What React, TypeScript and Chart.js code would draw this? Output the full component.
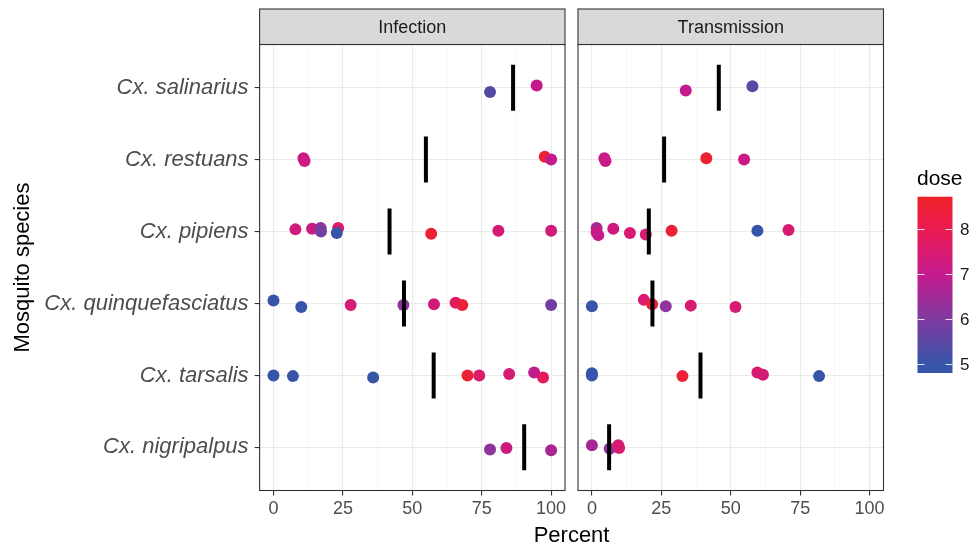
import React, { useEffect, useRef } from 'react';
import { Chart, registerables } from 'chart.js';
Chart.register(...registerables);

const FONT = '"Liberation Sans", Arial, Helvetica, sans-serif';

const SPECIES = ['Cx. salinarius', 'Cx. restuans', 'Cx. pipiens', 'Cx. quinquefasciatus', 'Cx. tarsalis', 'Cx. nigripalpus'];
const PANEL_TITLES = ['Infection', 'Transmission'];
const X_MAJOR_TICKS = [0, 25, 50, 75, 100];
const X_MINOR_TICKS = [12.5, 37.5, 62.5, 87.5];
const DOSE_TICKS = [5, 6, 7, 8];
const DOSE_RANGE = [4.79, 8.73];
const X_TITLE = 'Percent';
const Y_TITLE = 'Mosquito species';
const LEGEND_TITLE = 'dose';

// Infection panel
const INF_SPECIES = [0, 0, 1, 1, 1, 1, 2, 2, 2, 2, 2, 2, 2, 2, 2, 3, 3, 3, 3, 3, 3, 3, 3, 4, 4, 4, 4, 4, 4, 4, 4, 5, 5, 5];
const INF_PERCENT = [78, 94.8, 10.8, 11.2, 97.7, 100, 7.9, 13.9, 17, 17.1, 23.3, 22.8, 56.8, 81, 100, 0, 10, 27.8, 46.8, 57.8, 65.6, 68, 100, 0, 7, 35.9, 69.9, 74.1, 84.9, 93.9, 97.1, 78, 83.9, 100];
const INF_JITTER = [0.06, -0.03, -0.02, 0.02, -0.04, 0, -0.03, -0.04, -0.05, 0, -0.05, 0.02, 0.03, -0.01, -0.01, -0.04, 0.05, 0.02, 0.02, 0.01, -0.01, 0.02, 0.02, 0, 0.01, 0.03, 0, 0, -0.02, -0.04, 0.03, 0.03, 0.01, 0.04];
const INF_DOSE = [5.4, 7.0, 7.1, 7.2, 8.6, 7.0, 7.3, 7.2, 6.2, 5.8, 7.6, 5.0, 8.5, 7.4, 7.3, 5.0, 5.0, 7.4, 6.2, 7.3, 7.7, 8.4, 5.8, 5.0, 5.0, 5.0, 8.5, 7.6, 7.4, 6.9, 7.8, 6.2, 7.2, 6.6];
const INF_SUMMARY = [86.3, 54.9, 41.8, 47, 57.7, 90.3];

// Transmission panel
const TRN_SPECIES = [0, 0, 1, 1, 1, 1, 2, 2, 2, 2, 2, 2, 2, 2, 2, 3, 3, 3, 3, 3, 3, 4, 4, 4, 4, 4, 4, 5, 5, 5, 5];
const TRN_PERCENT = [33.8, 57.8, 4.5, 4.9, 41.2, 54.8, 1.7, 1.7, 2.3, 7.7, 13.7, 19.4, 28.7, 59.6, 70.8, 0, 18.7, 21.7, 26.6, 35.6, 51.7, 0, 0, 32.6, 59.6, 61.6, 81.8, 0, 6.4, 9.5, 9.8];
const TRN_JITTER = [0.04, -0.02, -0.02, 0.02, -0.02, 0, -0.05, 0.01, 0.05, -0.04, 0.02, 0.04, -0.01, -0.01, -0.02, 0.04, -0.05, 0.01, 0.04, 0.03, 0.05, -0.03, 0, 0.01, -0.04, -0.01, 0.01, -0.03, 0.02, -0.03, 0.01];
const TRN_DOSE = [7.0, 5.5, 7.1, 7.1, 8.6, 7.1, 6.5, 7.2, 7.0, 7.2, 7.5, 7.5, 8.5, 5.0, 7.5, 5.0, 7.5, 8.4, 6.2, 7.5, 7.5, 5.0, 5.0, 8.5, 7.5, 7.4, 5.0, 6.6, 6.2, 7.4, 7.5];
const TRN_SUMMARY = [45.7, 26, 20.5, 21.8, 39.1, 6.2];

const COLOR_STOPS: [number, number[]][] = [
  [4.7, [50, 86, 168]],
  [5.0, [54, 84, 168]],
  [6.0, [128, 58, 160]],
  [7.0, [197, 26, 141]],
  [8.0, [235, 28, 82]],
  [8.8, [238, 36, 36]],
];

function doseColor(d: number): string {
  if (d <= COLOR_STOPS[0][0]) return `rgb(${COLOR_STOPS[0][1].join(',')})`;
  for (let i = 1; i < COLOR_STOPS.length; i++) {
    const [d1, c1] = COLOR_STOPS[i];
    const [d0, c0] = COLOR_STOPS[i - 1];
    if (d <= d1) {
      const t = (d - d0) / (d1 - d0);
      const c = c0.map((v, k) => Math.round(v + (c1[k] - v) * t));
      return `rgb(${c.join(',')})`;
    }
  }
  return `rgb(${COLOR_STOPS[COLOR_STOPS.length - 1][1].join(',')})`;
}

const W = 976;
const H = 545;
const STRIP_TOP = 9;
const PANEL_TOP = 44.5;
const PANEL_BOTTOM = 490.5;
const LEFT_PANEL = [259.6, 565];
const RIGHT_PANEL = [578, 883.5];
const SEG_HALF = 0.32;

const isMajor = (v: number) => X_MAJOR_TICKS.includes(v);

function buildDatasets(species: number[], percent: number[], jitter: number[], dose: number[], summary: number[]) {
  const points = {
    type: 'scatter' as const,
    data: percent.map((p, i) => ({ x: p, y: species[i] + jitter[i] })),
    pointRadius: 6,
    pointHoverRadius: 6,
    pointBorderWidth: 0,
    pointBackgroundColor: dose.map(doseColor),
    showLine: false,
    order: 1,
  };
  const segments = summary.map((v, s) => ({
    type: 'line' as const,
    data: [{ x: v, y: s - SEG_HALF }, { x: v, y: s + SEG_HALF }],
    borderColor: '#000000',
    borderWidth: 4,
    borderCapStyle: 'butt' as const,
    pointRadius: 0,
    fill: false,
    order: 0,
  }));
  return [points, ...segments];
}

function panelPlugin(title: string, extra?: (chart: any) => void) {
  return {
    id: 'panelDeco' + title,
    afterDraw(chart: any) {
      const { ctx, chartArea: a } = chart;
      ctx.save();
      ctx.strokeStyle = '#333333';
      ctx.lineWidth = 1.1;
      ctx.strokeRect(a.left, a.top, a.right - a.left, a.bottom - a.top);
      ctx.fillStyle = '#D9D9D9';
      ctx.fillRect(a.left, STRIP_TOP, a.right - a.left, a.top - STRIP_TOP);
      ctx.strokeRect(a.left, STRIP_TOP, a.right - a.left, a.top - STRIP_TOP);
      ctx.fillStyle = '#1A1A1A';
      ctx.font = `18px ${FONT}`;
      ctx.textAlign = 'center';
      ctx.textBaseline = 'middle';
      ctx.fillText(title, (a.left + a.right) / 2, (STRIP_TOP + a.top) / 2 + 1);
      ctx.restore();
      if (extra) extra(chart);
    },
  };
}

function drawLegendAndTitle(chart: any) {
  const { ctx } = chart;
  ctx.save();
  // x-axis title centred over both panels
  ctx.fillStyle = '#000000';
  ctx.font = `22px ${FONT}`;
  ctx.textAlign = 'center';
  ctx.textBaseline = 'alphabetic';
  ctx.fillText(X_TITLE, (LEFT_PANEL[0] + RIGHT_PANEL[1]) / 2, 542);

  // colour bar legend
  const bx = 917.5, bw = 35, by0 = 196.7, by1 = 373;
  const doseToY = (d: number) => by1 - ((d - DOSE_RANGE[0]) / (DOSE_RANGE[1] - DOSE_RANGE[0])) * (by1 - by0);
  ctx.font = `21px ${FONT}`;
  ctx.textAlign = 'left';
  ctx.fillText(LEGEND_TITLE, 917, 185);
  const g = ctx.createLinearGradient(0, by1, 0, by0);
  for (let k = 0; k <= 40; k++) {
    const d = DOSE_RANGE[0] + (k / 40) * (DOSE_RANGE[1] - DOSE_RANGE[0]);
    g.addColorStop(k / 40, doseColor(d));
  }
  ctx.fillStyle = g;
  ctx.fillRect(bx, by0, bw, by1 - by0);
  ctx.strokeStyle = 'rgba(255,255,255,0.85)';
  ctx.lineWidth = 1;
  ctx.font = `17px ${FONT}`;
  ctx.textBaseline = 'middle';
  ctx.fillStyle = '#1A1A1A';
  DOSE_TICKS.forEach((d) => {
    const y = Math.round(doseToY(d)) + 0.5;
    ctx.beginPath();
    ctx.moveTo(bx, y); ctx.lineTo(bx + 7, y);
    ctx.moveTo(bx + bw - 7, y); ctx.lineTo(bx + bw, y);
    ctx.stroke();
    ctx.fillText(String(d), 960, y + 1);
  });
  ctx.restore();
}

function xScale() {
  return {
    type: 'linear' as const,
    min: -5,
    max: 105,
    afterBuildTicks: (s: any) => {
      s.ticks = [...X_MAJOR_TICKS, ...X_MINOR_TICKS].sort((a, b) => a - b).map((v) => ({ value: v }));
    },
    afterFit: (s: any) => { s.height = H - PANEL_BOTTOM; },
    ticks: {
      autoSkip: false,
      maxRotation: 0,
      padding: 3,
      color: '#4D4D4D',
      font: { size: 18, family: FONT },
      callback: (v: any) => (isMajor(Number(v)) ? String(v) : ''),
    },
    grid: {
      color: (c: any) => (c.tick && isMajor(c.tick.value) ? '#EBEBEB' : '#F3F3F3'),
      lineWidth: (c: any) => (c.tick && isMajor(c.tick.value) ? 1.1 : 0.6),
      drawTicks: true,
      tickLength: 5,
      tickWidth: 1.1,
      tickColor: (c: any) => (c.tick && isMajor(c.tick.value) ? '#333333' : 'rgba(0,0,0,0)'),
    },
    border: { display: false },
  };
}

function makeConfig(isLeft: boolean): any {
  const datasets = isLeft
    ? buildDatasets(INF_SPECIES, INF_PERCENT, INF_JITTER, INF_DOSE, INF_SUMMARY)
    : buildDatasets(TRN_SPECIES, TRN_PERCENT, TRN_JITTER, TRN_DOSE, TRN_SUMMARY);
  return {
    type: 'scatter',
    data: { datasets },
    options: {
      responsive: false,
      animation: false,
      devicePixelRatio: 1,
      events: [],
      layout: {
        padding: isLeft
          ? { top: PANEL_TOP, right: W - LEFT_PANEL[1], bottom: 0, left: 0 }
          : { top: PANEL_TOP, right: W - RIGHT_PANEL[1], bottom: 0, left: RIGHT_PANEL[0] },
      },
      plugins: { legend: { display: false }, tooltip: { enabled: false }, title: { display: false } },
      scales: {
        x: xScale(),
        y: {
          type: 'linear',
          min: -0.6,
          max: 5.6,
          reverse: true,
          afterBuildTicks: (s: any) => { s.ticks = SPECIES.map((_, i) => ({ value: i })); },
          afterFit: (s: any) => { s.width = isLeft ? LEFT_PANEL[0] : 0; },
          ticks: {
            display: isLeft,
            autoSkip: false,
            padding: 6,
            color: '#4D4D4D',
            font: { size: 22, style: 'italic', family: FONT },
            callback: (v: any) => SPECIES[Number(v)] ?? '',
          },
          grid: {
            color: '#EBEBEB',
            lineWidth: 1.1,
            drawTicks: isLeft,
            tickLength: isLeft ? 5 : 0,
            tickWidth: 1.1,
            tickColor: '#333333',
          },
          border: { display: false },
          title: {
            display: isLeft,
            text: Y_TITLE,
            color: '#000000',
            font: { size: 22, family: FONT },
            padding: { top: 10, bottom: 0 },
          },
        },
      },
    },
    plugins: [panelPlugin(isLeft ? PANEL_TITLES[0] : PANEL_TITLES[1], isLeft ? undefined : drawLegendAndTitle)],
  };
}

export default function App() {
  const leftRef = useRef<HTMLCanvasElement>(null);
  const rightRef = useRef<HTMLCanvasElement>(null);

  useEffect(() => {
    document.body.style.margin = '0';
    document.body.style.background = '#ffffff';
    const c1 = new Chart(leftRef.current as HTMLCanvasElement, makeConfig(true));
    const c2 = new Chart(rightRef.current as HTMLCanvasElement, makeConfig(false));
    return () => {
      c1.destroy();
      c2.destroy();
    };
  }, []);

  const style: React.CSSProperties = { position: 'absolute', left: 0, top: 0, width: W, height: H, display: 'block' };
  return (
    <div style={{ position: 'relative', width: W, height: H, background: '#ffffff', overflow: 'hidden' }}>
      <canvas ref={leftRef} width={W} height={H} style={style} />
      <canvas ref={rightRef} width={W} height={H} style={style} />
    </div>
  );
}
